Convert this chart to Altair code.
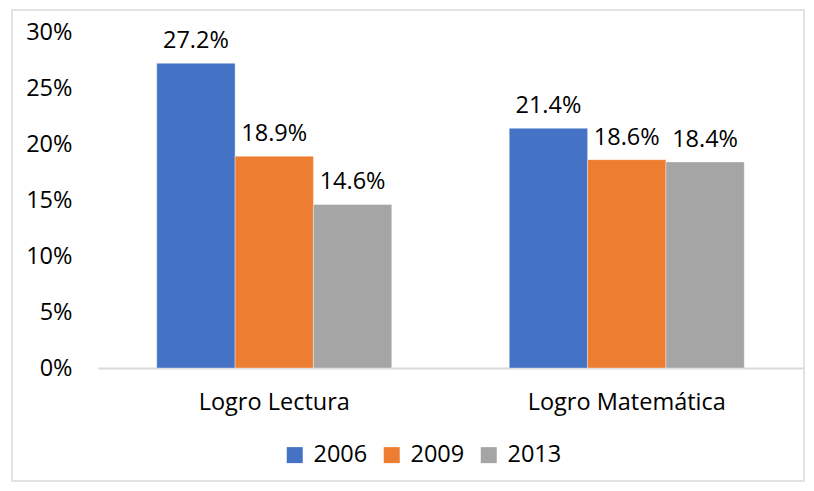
import altair as alt
import pandas as pd

categories = ["Logro Lectura", "Logro Matemática"]
years = ["2006", "2009", "2013"]
values_2006 = [27.2, 21.4]
values_2009 = [18.9, 18.6]
values_2013 = [14.6, 18.4]
colors = ["#4472C4", "#ED7D31", "#A5A5A5"]
y_ticks = [0, 5, 10, 15, 20, 25, 30]

rows = []
for yr, vals in zip(years, [values_2006, values_2009, values_2013]):
    for cat, v in zip(categories, vals):
        rows.append({"categoria": cat, "anio": yr, "valor": v, "etiqueta": f"{v:.1f}%"})
df = pd.DataFrame(rows)

FONT = "Open Sans"
FS = 23.5

x_enc = alt.X("categoria:N", sort=categories, title=None,
              scale=alt.Scale(paddingInner=1/3, paddingOuter=1/6),
              axis=alt.Axis(labelAngle=0, labelFontSize=FS, labelColor="#000000",
                            labelPadding=22, ticks=False, domainColor="#d9d9d9",
                            domainWidth=2, labelFont=FONT, labelLimit=0))
y_enc = alt.Y("valor:Q", title=None,
              scale=alt.Scale(domain=[0, 30], nice=False),
              axis=alt.Axis(values=y_ticks, labelExpr="datum.value + '%'", grid=False,
                            domain=False, ticks=False, labelFontSize=FS,
                            labelColor="#000000", labelPadding=26, labelFont=FONT))

base = alt.Chart(df)

bars = base.mark_bar(stroke="#ffffff", strokeWidth=0.6, strokeOpacity=0.6).encode(
    x=x_enc,
    xOffset=alt.XOffset("anio:N", sort=years),
    y=y_enc,
    color=alt.Color("anio:N", sort=years,
                    scale=alt.Scale(domain=years, range=colors),
                    legend=alt.Legend(title=None, orient="none", direction="horizontal",
                                      legendX=185, legendY=411, symbolType="square",
                                      symbolSize=256, symbolStrokeWidth=0,
                                      labelFontSize=FS, labelFont=FONT,
                                      labelColor="#000000", columnPadding=12,
                                      labelOffset=7)),
)

texts = base.mark_text(baseline="bottom", dy=-10, fontSize=FS, font=FONT,
                       color="#000000").encode(
    x=alt.X("categoria:N", sort=categories),
    xOffset=alt.XOffset("anio:N", sort=years),
    y=alt.Y("valor:Q"),
    text="etiqueta:N",
)

border = alt.Chart(pd.DataFrame({"b": [0]})).mark_rect(
    fill=None, stroke="#d9d9d9", strokeWidth=1.5
).encode(x=alt.value(-86), x2=alt.value(706), y=alt.value(-22), y2=alt.value(449))

chart = alt.layer(border, bars, texts).properties(
    width=705, height=336,
    padding={"left": 90, "top": 24, "right": 3, "bottom": 115},
    autosize=alt.AutoSizeParams(type="none"),
).configure(background="#ffffff", view=alt.ViewConfig(stroke=None))

chart.save("out.html", embed_options={"renderer": "svg", "actions": False})
